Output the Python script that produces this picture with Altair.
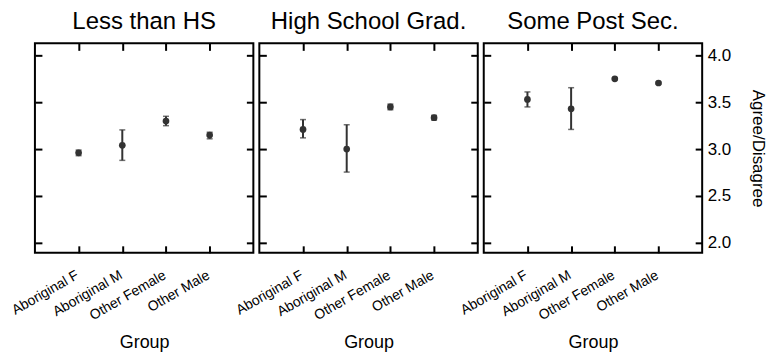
import altair as alt
import pandas as pd

panels = ["Less than HS", "High School Grad.", "Some Post Sec."]
groups = ["Aboriginal F", "Aboriginal M", "Other Female", "Other Male"]

means = {
    "Less than HS":      [2.96, 3.04, 3.30, 3.15],
    "High School Grad.": [3.21, 3.00, 3.45, 3.335],
    "Some Post Sec.":    [3.53, 3.43, 3.75, 3.705],
}
lows = {
    "Less than HS":      [2.93, 2.88, 3.25, 3.11],
    "High School Grad.": [3.12, 2.755, 3.42, 3.31],
    "Some Post Sec.":    [3.45, 3.21, 3.74, 3.695],
}
highs = {
    "Less than HS":      [2.99, 3.205, 3.35, 3.18],
    "High School Grad.": [3.315, 3.26, 3.48, 3.36],
    "Some Post Sec.":    [3.61, 3.655, 3.76, 3.715],
}
y_ticks = [2.0, 2.5, 3.0, 3.5, 4.0]

FONT = "Liberation Sans"
INK = "#333333"
W, H = 219, 210
TICK = 7


def panel(name, show_y_labels):
    df = pd.DataFrame({
        "Group": groups,
        "mean": means[name],
        "low": lows[name],
        "high": highs[name],
    })
    base = alt.Chart(df)
    xscale = alt.Scale(type="point", padding=1, domain=groups)
    yscale = alt.Scale(domain=[1.894, 4.128], nice=False, zero=False)

    x_bottom = alt.X("Group:N", scale=xscale, sort=groups, axis=alt.Axis(
        orient="bottom", offset=-TICK, tickSize=TICK, tickWidth=2, tickColor="black",
        domain=False, labelAngle=-30, labelAlign="right", labelBaseline="top",
        labelFontSize=14, labelFont=FONT,
        labelColor="black", labelPadding=15, labelOffset=-5,
        title="Group", titleFontSize=18,
        titleFont=FONT, titleFontWeight="normal", titleColor="black", titlePadding=11))
    x_top = alt.X("Group:N", scale=xscale, sort=groups, axis=alt.Axis(
        orient="top", offset=-TICK, tickSize=TICK, tickWidth=2, tickColor="black",
        domain=False, labels=False, title=None))

    y_left = alt.Y("mean:Q", scale=yscale, axis=alt.Axis(
        orient="left", offset=-TICK, tickSize=TICK, tickWidth=2, tickColor="black",
        domain=False, labels=False, values=y_ticks, title=None, grid=False))
    if show_y_labels:
        y_right_axis = alt.Axis(
            orient="right", offset=-TICK, tickSize=TICK, tickWidth=2, tickColor="black",
            domain=False, values=y_ticks, format=".1f", labelFontSize=17,
            labelFont=FONT, labelColor="black", labelPadding=5,
            title="Agree/Disagree", titleFontSize=17, titleFont=FONT,
            titleFontWeight="normal", titleColor="black", titlePadding=18, grid=False)
    else:
        y_right_axis = alt.Axis(
            orient="right", offset=-TICK, tickSize=TICK, tickWidth=2, tickColor="black",
            domain=False, labels=False, values=y_ticks, title=None, grid=False)
    y_right = alt.Y("low:Q", scale=yscale, axis=y_right_axis)

    points = base.mark_point(filled=True, size=45, color=INK, opacity=1).encode(
        x=x_bottom, y=y_left)
    rules = base.mark_rule(color=INK, strokeWidth=2).encode(
        x=x_top, y=y_right, y2="high:Q")
    cap_lo = base.mark_tick(color=INK, size=6, thickness=1.5).encode(
        x=alt.X("Group:N", scale=xscale, sort=groups, axis=None),
        y=alt.Y("low:Q", scale=yscale, axis=None))
    cap_hi = base.mark_tick(color=INK, size=6, thickness=1.5).encode(
        x=alt.X("Group:N", scale=xscale, sort=groups, axis=None),
        y=alt.Y("high:Q", scale=yscale, axis=None))

    return alt.layer(points, rules, cap_lo, cap_hi).resolve_axis(
        x="independent", y="independent"
    ).properties(
        width=W, height=H,
        title=alt.TitleParams(name, fontSize=24, font=FONT, fontWeight="normal",
                              color="black", anchor="middle", offset=8),
    )


chart = alt.hconcat(
    panel(panels[0], False),
    panel(panels[1], False),
    panel(panels[2], True),
    spacing=6,
    bounds="flush",
).properties(
    padding={"left": 0, "top": 1, "right": 0, "bottom": 0},
    background="white",
).configure_view(
    stroke="black", strokeWidth=2, fill="white",
)

chart.save("out.html", embed_options={"renderer": "svg", "actions": False})
